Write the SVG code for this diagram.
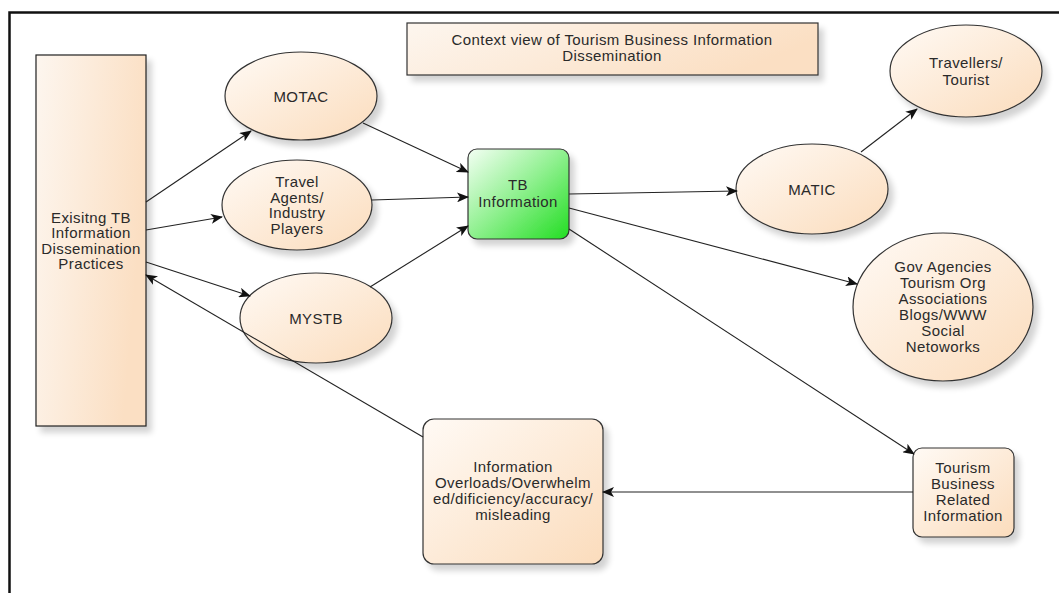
<svg xmlns="http://www.w3.org/2000/svg" width="1059" height="593" viewBox="0 0 1059 593">
<defs>
<linearGradient id="peach" x1="0" y1="0" x2="1" y2="1">
<stop offset="0" stop-color="#fffaf5"/>
<stop offset="1" stop-color="#fbdcbc"/>
</linearGradient>
<linearGradient id="peachH" x1="0" y1="0" x2="1" y2="0.3">
<stop offset="0" stop-color="#fdf6ef"/>
<stop offset="1" stop-color="#fbdfc3"/>
</linearGradient>
<linearGradient id="green" x1="0" y1="0" x2="1" y2="1">
<stop offset="0" stop-color="#f4fff4"/>
<stop offset="0.5" stop-color="#8ef08e"/>
<stop offset="1" stop-color="#22dd22"/>
</linearGradient>
<filter id="sh" x="-20%" y="-20%" width="150%" height="150%">
<feGaussianBlur in="SourceAlpha" stdDeviation="3"/>
<feOffset dx="5" dy="6" result="b"/>
<feComponentTransfer><feFuncA type="linear" slope="0.18"/></feComponentTransfer>
<feMerge><feMergeNode/><feMergeNode in="SourceGraphic"/></feMerge>
</filter>
<marker id="arr" viewBox="0 0 12 10" refX="11" refY="5" markerWidth="12" markerHeight="10" markerUnits="userSpaceOnUse" orient="auto">
<path d="M0,0 L12,5 L0,10 L3,5 Z" fill="#111"/>
</marker>
</defs>
<style>
.n{fill:url(#peach);stroke:#333;stroke-width:1.2;filter:url(#sh)}
.t{font-family:"Liberation Sans",Arial,sans-serif;font-size:15px;letter-spacing:0.4px;fill:#2a2a2a;text-anchor:middle}
.c{stroke:#222;stroke-width:1.1;fill:none;marker-end:url(#arr)}
</style>
<rect width="1059" height="593" fill="#fff"/>
<path d="M9.5,593 V12.5 H1059" fill="none" stroke="#111" stroke-width="2.5"/>

<g id="title">
<rect x="407" y="23" width="411" height="52" class="n" style="fill:url(#peachH)"/>
<text class="t" x="612" y="45">Context view of Tourism Business Information</text>
<text class="t" x="612" y="61">Dissemination</text>
</g>

<g id="existing">
<rect x="36" y="55" width="110" height="371" class="n" style="fill:url(#peachH);stroke:#222"/>
<text class="t" x="91" y="223">Exisitng TB</text>
<text class="t" x="91" y="238">Information</text>
<text class="t" x="91" y="254">Dissemination</text>
<text class="t" x="91" y="269">Practices</text>
</g>

<g id="motac">
<ellipse cx="301" cy="96" rx="76" ry="44" class="n"/>
<text class="t" x="301" y="102">MOTAC</text>
</g>

<g id="travel">
<ellipse cx="297" cy="205" rx="75" ry="45" class="n"/>
<text class="t" x="297" y="187">Travel</text>
<text class="t" x="297" y="203">Agents/</text>
<text class="t" x="297" y="218">Industry</text>
<text class="t" x="297" y="234">Players</text>
</g>

<g id="mystb">
<ellipse cx="316" cy="318" rx="76" ry="45" class="n"/>
<text class="t" x="316" y="324">MYSTB</text>
</g>

<g id="tbinfo">
<rect x="468" y="149" width="101" height="90" rx="9" fill="url(#green)" stroke="#333" stroke-width="1.2" filter="url(#sh)"/>
<text class="t" x="518" y="190">TB</text>
<text class="t" x="518" y="207">Information</text>
</g>

<g id="matic">
<ellipse cx="812" cy="189" rx="76" ry="45" class="n"/>
<text class="t" x="812" y="195">MATIC</text>
</g>

<g id="travellers">
<ellipse cx="966" cy="71" rx="76" ry="46" class="n"/>
<text class="t" x="966" y="68">Travellers/</text>
<text class="t" x="966" y="85">Tourist</text>
</g>

<g id="gov">
<ellipse cx="943" cy="307" rx="90" ry="74" class="n"/>
<text class="t" x="943" y="272">Gov Agencies</text>
<text class="t" x="943" y="288">Tourism Org</text>
<text class="t" x="943" y="304">Associations</text>
<text class="t" x="943" y="320">Blogs/WWW</text>
<text class="t" x="943" y="336">Social</text>
<text class="t" x="943" y="352">Netoworks</text>
</g>

<g id="tbrelated">
<rect x="913" y="448" width="101" height="89" rx="9" class="n"/>
<text class="t" x="963" y="473">Tourism</text>
<text class="t" x="963" y="489">Business</text>
<text class="t" x="963" y="505">Related</text>
<text class="t" x="963" y="521">Information</text>
</g>

<g id="overload">
<rect x="423" y="419" width="180" height="145" rx="11" class="n"/>
<text class="t" x="513" y="472">Information</text>
<text class="t" x="513" y="488">Overloads/Overwhelm</text>
<text class="t" x="513" y="504">ed/dificiency/accuracy/</text>
<text class="t" x="513" y="520">misleading</text>
</g>

<g id="connectors">
<line class="c" x1="146" y1="202" x2="251" y2="131"/>
<line class="c" x1="146" y1="230" x2="222" y2="217"/>
<line class="c" x1="146" y1="262" x2="250" y2="296"/>
<line class="c" x1="423" y1="437" x2="146" y2="275"/>
<line class="c" x1="363" y1="123" x2="468" y2="172"/>
<line class="c" x1="372" y1="200" x2="468" y2="197"/>
<line class="c" x1="370" y1="287" x2="468" y2="226"/>
<line class="c" x1="569" y1="194" x2="737" y2="191"/>
<line class="c" x1="569" y1="208" x2="857" y2="284"/>
<line class="c" x1="569" y1="229" x2="914" y2="454"/>
<line class="c" x1="861" y1="152" x2="917" y2="109"/>
<line class="c" x1="913" y1="492" x2="603" y2="492"/>
</g>
</svg>
